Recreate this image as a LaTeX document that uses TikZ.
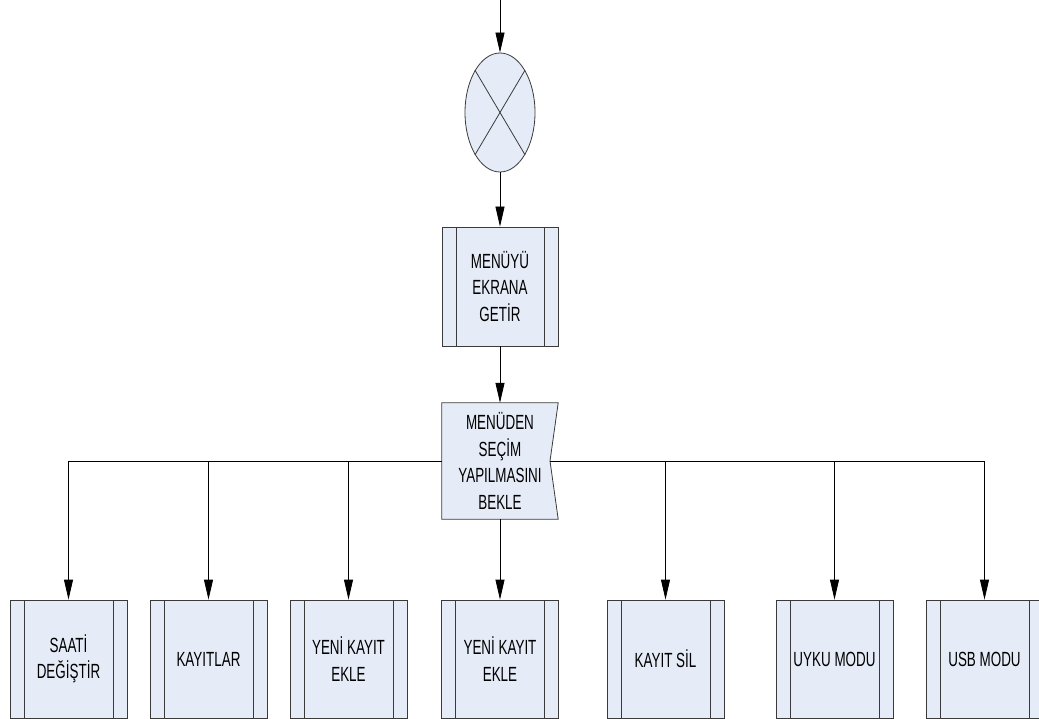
\documentclass[tikz,border=0pt]{standalone}
\usepackage{fontspec}
\setmainfont{Liberation Sans}[FakeStretch=0.655]
\usetikzlibrary{arrows.meta,shapes.geometric}
\definecolor{boxfill}{HTML}{E6ECF7}
\definecolor{edge}{HTML}{3A3A3A}
\tikzset{
  every node/.style={font=\fontsize{20.5}{26.5}\selectfont, align=center},
  arr/.style={draw=black, line width=0.8pt, -{Triangle[length=20pt,width=9pt]}},
  proc/.style={rectangle, draw=edge, line width=0.8pt, fill=boxfill,
    minimum width=117pt, minimum height=118pt, inner sep=0pt,
    path picture={
      \draw[edge, line width=0.8pt]
        ([xshift=14pt]path picture bounding box.north west) --
        ([xshift=14pt]path picture bounding box.south west)
        ([xshift=-14pt]path picture bounding box.north east) --
        ([xshift=-14pt]path picture bounding box.south east);
    }},
  waitbox/.style={rectangle, draw=none, minimum width=116pt,
    minimum height=116pt, inner sep=0pt}
}
\begin{document}
\begin{tikzpicture}[x=1pt, y=-1pt]
  \useasboundingbox (0,0) rectangle (1039,719);

  % summing junction
  \coordinate (start) at (500,0);
  \node[ellipse, draw=edge, line width=0.8pt, fill=boxfill,
        minimum width=70pt, minimum height=119pt, inner sep=0pt] (sum) at (500,112.5) {};
  \draw[edge, line width=0.8pt]
    (sum.north west) -- (sum.south east)
    (sum.north east) -- (sum.south west);

  % menu display
  \node[proc, minimum width=116pt, minimum height=119pt] (show) at (500,286.5)
    {MENÜYÜ\\EKRANA\\GETİR};

  % wait for selection
  \node[waitbox] (wait) at (500,461) {};
  \coordinate (notch) at (550,461);
  \draw[edge, line width=0.8pt, fill=boxfill]
    (wait.north west) -- (wait.north east) -- (notch) --
    (wait.south east) -- (wait.south west) -- cycle;
  \node[waitbox] at (wait) {MENÜDEN\\SEÇİM\\YAPILMASINI\\BEKLE};

  % menu items
  \node[proc] (b1) at (68.5,659) {SAATİ\\DEĞİŞTİR};
  \node[proc] (b2) at (208.5,659) {KAYITLAR};
  \node[proc] (b3) at (348.5,659) {YENİ KAYIT\\EKLE};
  \node[proc] (b4) at (500,659) {YENİ KAYIT\\EKLE};
  \node[proc] (b5) at (665.5,659) {KAYIT SİL};
  \node[proc] (b6) at (834.5,659) {UYKU MODU};
  \node[proc] (b7) at (984.5,659) {USB MODU};

  % connectors
  \draw[arr] (start) -- (sum.north);
  \draw[arr] (sum.south) -- (show.north);
  \draw[arr] (show.south) -- (wait.north);
  \draw[arr] (wait.west) -| (b1.north);
  \draw[arr] (wait.west) -| (b2.north);
  \draw[arr] (wait.west) -| (b3.north);
  \draw[arr] (wait.south) -- (b4.north);
  \draw[arr] (notch) -| (b5.north);
  \draw[arr] (notch) -| (b6.north);
  \draw[arr] (notch) -| (b7.north);
\end{tikzpicture}
\end{document}
